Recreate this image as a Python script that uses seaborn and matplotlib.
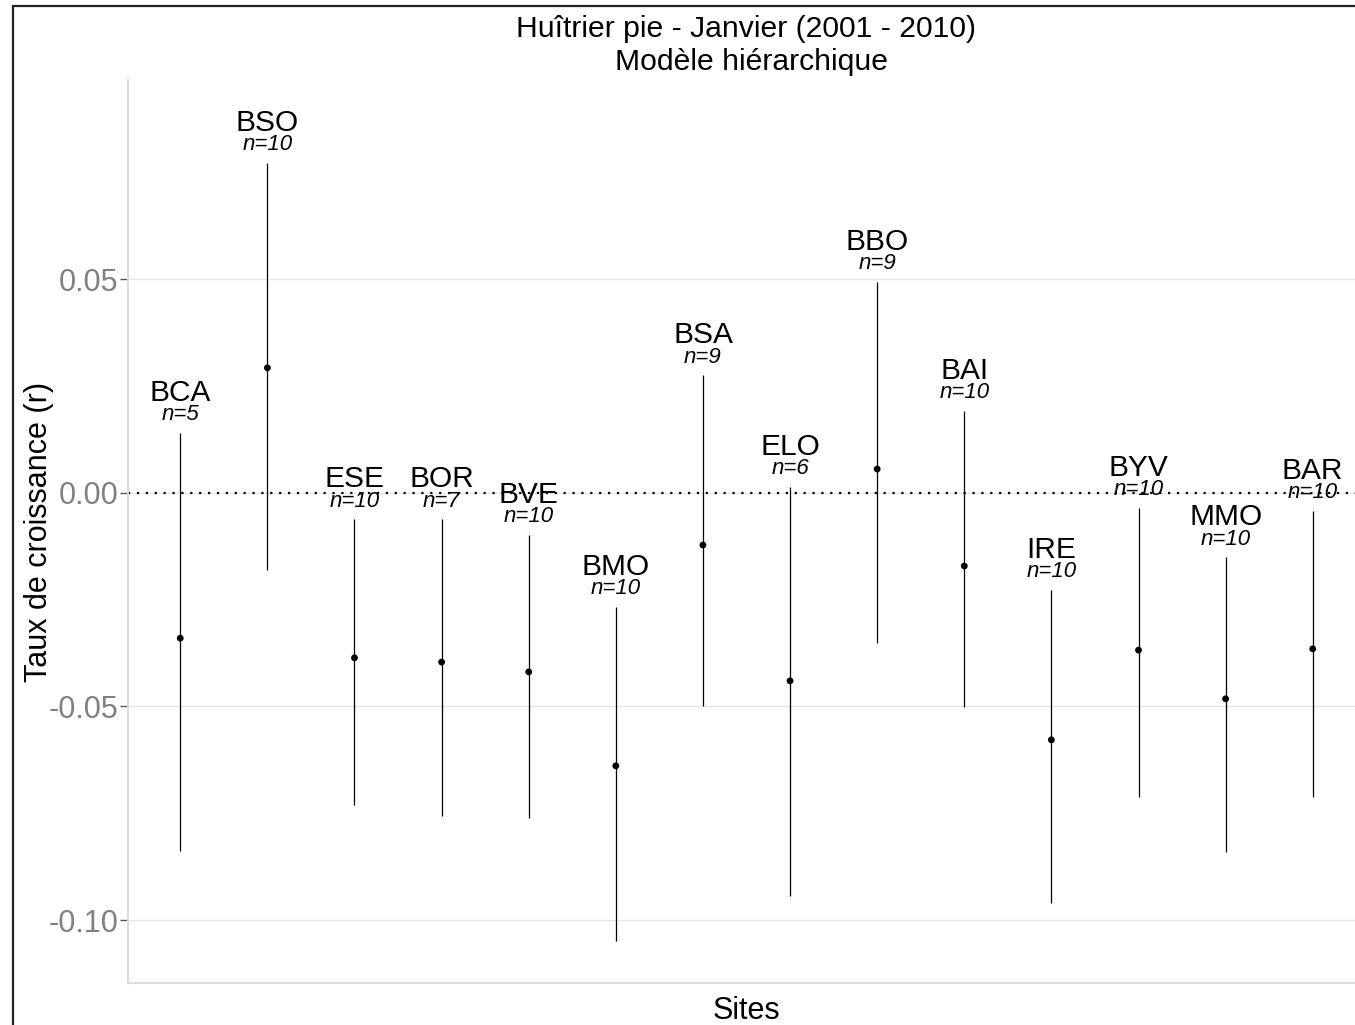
import numpy as np
import pandas as pd
import matplotlib
matplotlib.use("Agg")
import matplotlib.pyplot as plt
from matplotlib.patches import Rectangle
import seaborn as sns

# Estimated growth rate (r) per site with its credible interval
sites = ["BCA", "BSO", "ESE", "BOR", "BVE", "BMO", "BSA",
         "ELO", "BBO", "BAI", "IRE", "BYV", "MMO", "BAR"]
n_years = [5, 10, 10, 7, 10, 10, 9, 6, 9, 10, 10, 10, 10, 10]
r_mean = [-0.0340, 0.0293, -0.0386, -0.0396, -0.0419, -0.0639, -0.0122,
          -0.0440, 0.0056, -0.0171, -0.0578, -0.0368, -0.0482, -0.0365]
r_low = [-0.0838, -0.0180, -0.0731, -0.0756, -0.0761, -0.1049, -0.0499,
         -0.0944, -0.0351, -0.0501, -0.0960, -0.0712, -0.0841, -0.0712]
r_high = [0.0141, 0.0773, -0.0061, -0.0061, -0.0098, -0.0267, 0.0276,
          0.0014, 0.0494, 0.0192, -0.0227, -0.0035, -0.0150, -0.0042]
yticks = [-0.10, -0.05, 0.00, 0.05]
ytick_labels = ["-0.10", "-0.05", "0.00", "0.05"]

df = pd.DataFrame({"site": sites, "n": n_years, "r": r_mean,
                   "low": r_low, "high": r_high})
df["pos"] = np.arange(1, len(df) + 1)

sns.set_theme(style="white")
plt.rcParams["font.family"] = ["Liberation Sans", "DejaVu Sans"]

W, H = 1355, 1025
fig = plt.figure(figsize=(W / 100, H / 100), dpi=100)
# panel runs a bit past the right edge, like the cropped original
ax = fig.add_axes([128 / W, 1 - 983 / H, 1237 / W, 903 / H])

ax.axhline(0, color="black", lw=1.6, ls=(0, (1, 3)), zorder=2)
ax.vlines(df["pos"], df["low"], df["high"], color="black", lw=0.9, zorder=3)
sns.scatterplot(data=df, x="pos", y="r", color="black", s=24,
                edgecolor="none", ax=ax, zorder=4)

for _, row in df.iterrows():
    ax.annotate(row["site"], (row["pos"], row["high"]), xytext=(0, 40),
                textcoords="offset pixels", ha="center", va="center",
                fontsize=21.5, color="black", zorder=5)
    ax.annotate(f"n={row['n']}", (row["pos"], row["high"]), xytext=(0, 18),
                textcoords="offset pixels", ha="center", va="center",
                fontsize=16, style="italic", color="black", zorder=5)

ax.set_xlim(0.4, 14.6)
ax.set_ylim(-0.11475, 0.0967)
ax.set_xticks([])
ax.set_yticks(yticks)
ax.set_yticklabels(ytick_labels)
ax.tick_params(axis="y", left=True, length=6, width=1, color="#555555",
               labelsize=22, labelcolor="#808080", pad=1)
ax.grid(axis="y", color="#e6e6e6", lw=1)
ax.set_axisbelow(True)

for side in ["top", "right"]:
    ax.spines[side].set_visible(False)
for side in ["left", "bottom"]:
    ax.spines[side].set_color("#dcdcdc")
    ax.spines[side].set_linewidth(1.5)

ax.set_xlabel("Sites", fontsize=22, color="black")
ax.set_ylabel("Taux de croissance (r)", fontsize=22, color="black")
ax.xaxis.set_label_coords(0.5, -0.014)
ax.yaxis.set_label_coords(-0.060, 0.5)

fig.text(746 / W, 1 - 29 / H, "Huîtrier pie - Janvier (2001 - 2010)",
         ha="center", va="center", fontsize=21.7, color="black")
fig.text(751 / W, 1 - 62 / H, "Modèle hiérarchique",
         ha="center", va="center", fontsize=21.7, color="black")

# outer frame of the original figure (top and left edges visible)
fig.add_artist(Rectangle((13 / W, -0.1), 1.2, 1.1 - 6 / H,
                         transform=fig.transFigure, fill=False,
                         ec="#222222", lw=1.6))

fig.savefig("out.png", dpi=100)
